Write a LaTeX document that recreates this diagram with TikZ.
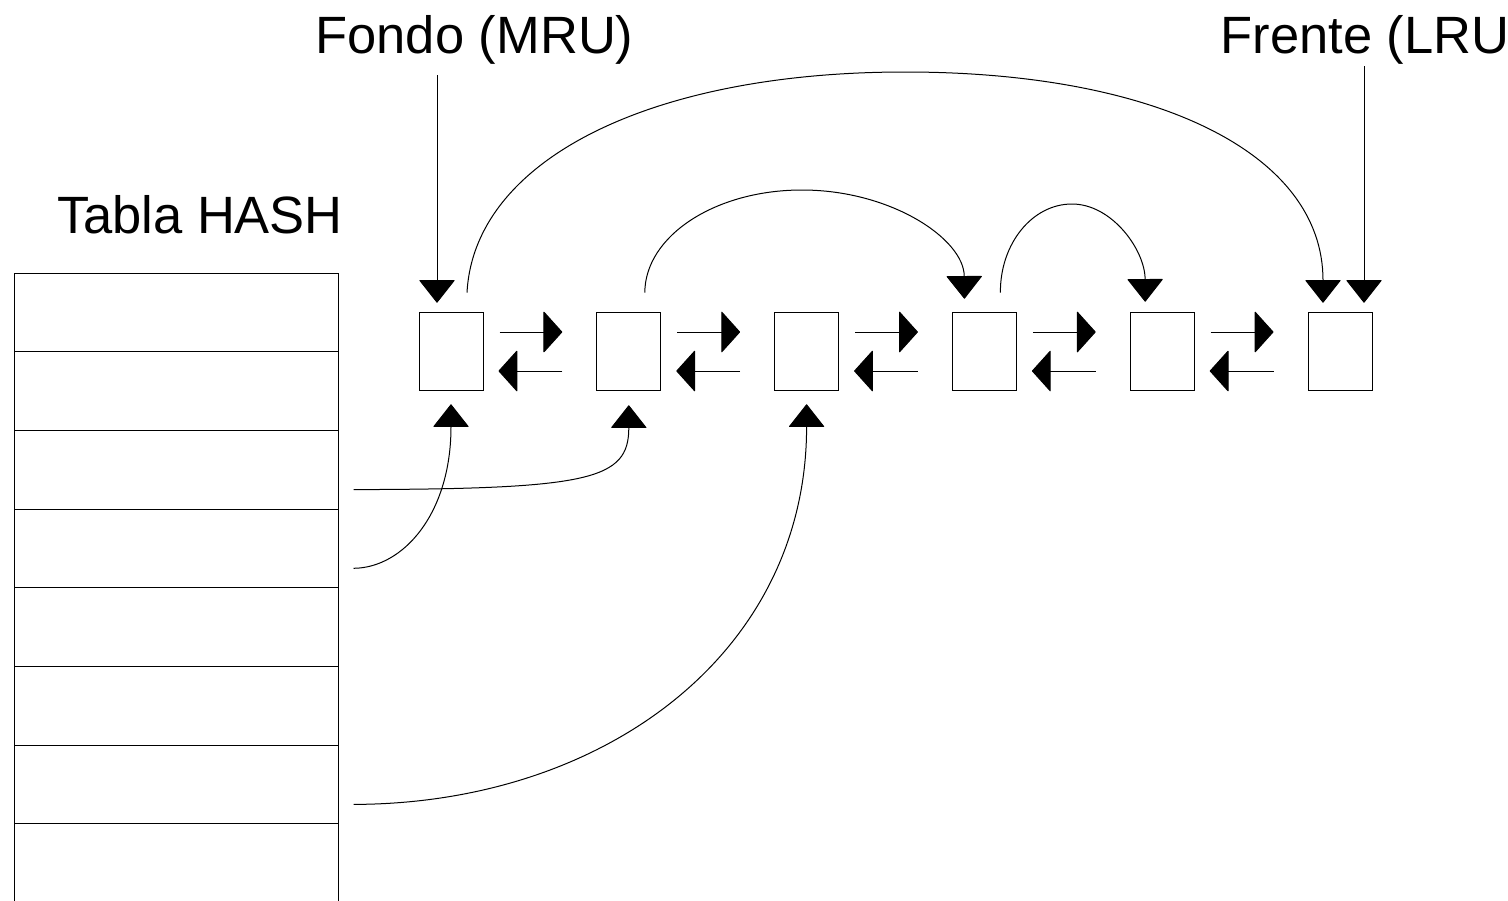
\documentclass[tikz,border=0pt]{standalone}
\usepackage{fontspec}
\setmainfont{Liberation Sans}
\usetikzlibrary{arrows.meta,calc}
\begin{document}
\begin{tikzpicture}[x=1pt,y=-1pt,
  line width=1pt,
  qbox/.style={draw, minimum width=64pt, minimum height=78.6pt, inner sep=0pt},
  cell/.style={draw, minimum width=324pt, minimum height=78.7pt, inner sep=0pt},
  headtext/.style={font=\fontsize{52.5}{63}\selectfont, inner sep=0pt, anchor=base west},
  vtip/.style={-{Triangle[length=23pt,width=36pt,round]}},
  htip/.style={-{Triangle[length=19pt,width=42pt,round]}},
]
\fill[white] (0,0) rectangle (1508,900);
\useasboundingbox (0,0) rectangle (1508,900);

% labels
\node[headtext] (fondo)  at (315,53.3) {Fondo (MRU)};
\node[headtext] (frente) at (1220,53.3) {Frente (LRU)};
\node[headtext] (tabla)  at (56.5,233.3) {Tabla HASH};

% hash table rows
\foreach \k in {1,...,8}
  \node[cell] (r\k) at (176,{273+78.7*(\k-0.5)}) {};

% queue nodes
\foreach \i in {1,...,6}
  \node[qbox] (q\i) at ({451+177.8*(\i-1)},351.5) {};

% forward / backward links between neighbours
\foreach \i [evaluate=\i as \j using int(\i+1)] in {1,...,5} {
  \draw[htip] ($(q\i.east)+(16,-19.5)$) -- ($(q\j.west)+(-34,-19.5)$);
  \draw[htip] ($(q\j.west)+(-34,19.5)$) -- ($(q\i.east)+(15,19.5)$);
}

% entry points of the pointers
\coordinate (fondoOut)  at (437,75);
\coordinate (frenteOut) at (1364,66);
\coordinate (q1in)  at ($(q1.north)+(-14,-9)$);
\coordinate (q4in)  at ($(q4.north)+(-20,-13)$);
\coordinate (q5in)  at ($(q5.north)+(-17,-10)$);
\coordinate (q6inA) at ($(q6.north)+(-17,-9)$);
\coordinate (q6inB) at ($(q6.north)+(24,-9)$);
\coordinate (a1) at ($(q1.north)+(16,-19)$);
\coordinate (a2) at ($(q2.north)+(16,-19)$);
\coordinate (a4) at ($(q4.north)+(16,-19)$);
\coordinate (q1up) at ($(q1.south)+(0,13)$);
\coordinate (q2up) at ($(q2.south)+(0,14)$);
\coordinate (q3up) at ($(q3.south)+(0,13)$);
\coordinate (h3) at ($(r3.south east)+(15,-20)$);
\coordinate (h4) at ($(r4.south east)+(15,-20)$);
\coordinate (h7) at ($(r7.south east)+(15,-20)$);

% head and tail pointers
\draw[vtip] (fondoOut) -- (q1in);
\draw[vtip] (frenteOut) -- (q6inB);

% arcs over the queue
\draw[vtip] (a1) .. controls (474,160) and (650,72) .. (905,72)
                 .. controls (1156,72) and (1323,153) .. (q6inA);
\draw[vtip] (a2) .. controls (645,236) and (715,190) .. (802,190)
                 .. controls (891,190) and (964,239) .. (q4in);
\draw[vtip] (a4) .. controls (1000,244) and (1032,204) .. (1072,204)
                 .. controls (1112,204) and (1145,250) .. (q5in);

% hash entries pointing into the queue
\draw[vtip] (h3) .. controls (590,489) and (628.8,480) .. (q2up);
\draw[vtip] (h4) .. controls (403,568) and (451,514) .. (q1up);
\draw[vtip] (h7) .. controls (603,804) and (806.6,654) .. (q3up);
\end{tikzpicture}
\end{document}
